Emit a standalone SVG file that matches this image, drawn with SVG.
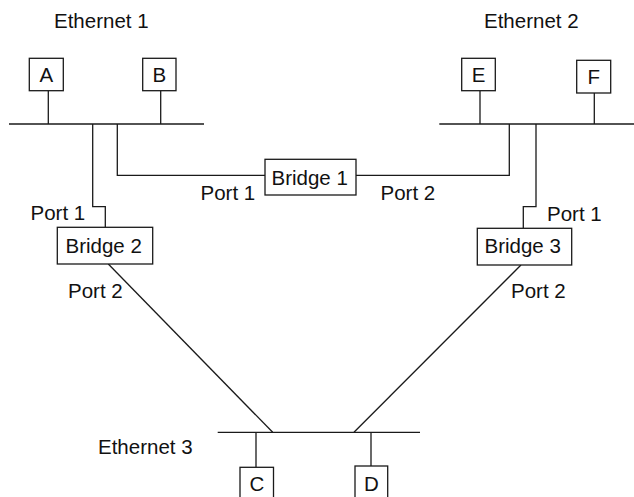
<svg xmlns="http://www.w3.org/2000/svg" width="634" height="497" viewBox="0 0 634 497">
<style>
  .box { fill: #ffffff; stroke: #1a1a1a; stroke-width: 1.3; }
  .ln { fill: none; stroke: #1a1a1a; stroke-width: 1.3; }
  .t { font-family: "Liberation Sans", Arial, Helvetica, sans-serif; font-size: 20.5px; fill: #111111; }
  .c { text-anchor: middle; }
</style>
<rect width="634" height="497" fill="#ffffff"/>
<g id="connectors">
  <!-- station stems -->
  <line class="ln" x1="48.3" y1="90.7" x2="48.3" y2="124"/>
  <line class="ln" x1="160.7" y1="90.7" x2="160.7" y2="124"/>
  <line class="ln" x1="480" y1="90.7" x2="480" y2="124"/>
  <line class="ln" x1="594.3" y1="93" x2="594.3" y2="124"/>
  <line class="ln" x1="256" y1="432.3" x2="256" y2="467.3"/>
  <line class="ln" x1="371" y1="432.3" x2="371" y2="466"/>
  <!-- Ethernet 1 to bridges -->
  <polyline class="ln" points="92.7,124 92.7,206.7 105.3,206.7 105.3,227.3"/>
  <polyline class="ln" points="117.3,124 117.3,175.3 265,175.3"/>
  <!-- Ethernet 2 to bridges -->
  <polyline class="ln" points="509.3,124 509.3,175.3 356,175.3"/>
  <polyline class="ln" points="536,124 536,206.7 523.3,206.7 523.3,228.3"/>
  <!-- bridges to Ethernet 3 -->
  <line class="ln" x1="108.3" y1="264" x2="272.7" y2="432.3"/>
  <line class="ln" x1="521" y1="265" x2="354" y2="432.3"/>
</g>
<g id="ethernet1">
  <line class="ln" x1="9" y1="124" x2="204" y2="124"/>
  <text class="t" x="54" y="28">Ethernet 1</text>
</g>
<g id="ethernet2">
  <line class="ln" x1="439.3" y1="124" x2="634" y2="124"/>
  <text class="t" x="484" y="28">Ethernet 2</text>
</g>
<g id="ethernet3">
  <line class="ln" x1="217.7" y1="432.3" x2="420" y2="432.3"/>
  <text class="t" x="98" y="454">Ethernet 3</text>
</g>
<g id="A">
  <rect class="box" x="29.3" y="58.3" width="34" height="32.4"/>
  <text class="t c" x="46.3" y="82">A</text>
</g>
<g id="B">
  <rect class="box" x="142.7" y="58.3" width="33.3" height="32.4"/>
  <text class="t c" x="159.3" y="82">B</text>
</g>
<g id="E">
  <rect class="box" x="461.7" y="58.3" width="33.6" height="32.4"/>
  <text class="t c" x="478.5" y="82">E</text>
</g>
<g id="F">
  <rect class="box" x="576.7" y="60.3" width="34" height="32.7"/>
  <text class="t c" x="593.7" y="84.3">F</text>
</g>
<g id="C">
  <rect class="box" x="240" y="467.3" width="33.5" height="40"/>
  <text class="t c" x="256.8" y="491">C</text>
</g>
<g id="D">
  <rect class="box" x="355" y="466" width="32.7" height="40"/>
  <text class="t c" x="371.3" y="491">D</text>
</g>
<g id="bridge1">
  <rect class="box" x="265" y="159.3" width="91" height="35.7"/>
  <text class="t" x="271.5" y="185">Bridge 1</text>
  <text class="t" x="200.5" y="200">Port 1</text>
  <text class="t" x="380.5" y="200">Port 2</text>
</g>
<g id="bridge2">
  <rect class="box" x="57.3" y="227.3" width="95.4" height="36.7"/>
  <text class="t" x="65.5" y="252.7">Bridge 2</text>
  <text class="t" x="30.5" y="220">Port 1</text>
  <text class="t" x="68" y="298">Port 2</text>
</g>
<g id="bridge3">
  <rect class="box" x="477.3" y="228.3" width="94.4" height="36.7"/>
  <text class="t" x="484.5" y="253">Bridge 3</text>
  <text class="t" x="547" y="220.7">Port 1</text>
  <text class="t" x="511" y="298">Port 2</text>
</g>
</svg>
